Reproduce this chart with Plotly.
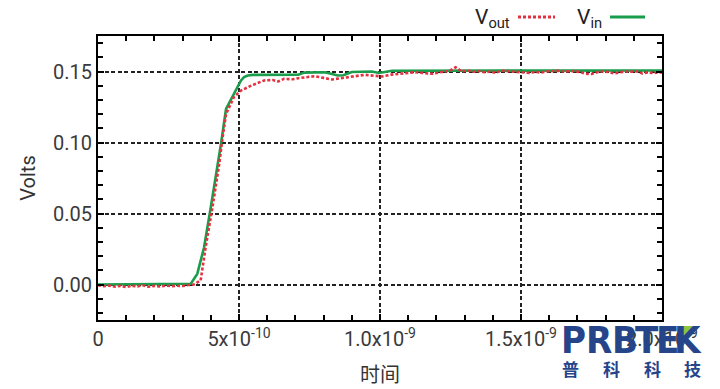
import plotly.graph_objects as go

# ---------------- data (time in units of 1e-10 s, volts) ----------------
vin_t_e10 = [0.0, 1.5, 2.5, 3.0, 3.29, 3.52, 3.76, 4.0, 4.24, 4.36, 4.54, 4.70, 4.83, 4.96, 5.07, 5.18, 5.31, 5.5,
             6.5, 7.1, 7.32, 8.04, 8.3, 8.5, 8.7, 9.0, 9.71, 9.96, 10.43, 13.0, 16.0, 20.0]
vin_v = [0.0, 0.0, 0.0, 0.0, 0.0005, 0.0075, 0.026, 0.0545, 0.0826, 0.099, 0.1237, 0.1300, 0.1343, 0.1395, 0.1437,
         0.1460, 0.1472, 0.1476,
         0.1475, 0.1477, 0.1492, 0.1495, 0.1482, 0.1472, 0.1474, 0.1497, 0.1500, 0.1490, 0.1505, 0.1506, 0.1507, 0.1507]

vout_t_e10 = [0.0, 0.2, 0.4, 0.6, 0.8, 1.0, 1.2, 1.4, 1.6, 1.8, 2.0, 2.2, 2.4, 2.6, 2.8, 3.0, 3.2, 3.4,
              3.64, 3.82, 4.06, 4.30, 4.42, 4.54, 4.82, 5.07, 5.43, 5.89, 6.2, 6.39, 6.6, 6.9, 7.1, 7.4,
              7.68, 8.0, 8.29, 8.6, 8.89, 9.2, 9.46, 9.8, 10.07, 10.4, 10.68, 11.0, 11.25, 11.6, 11.86,
              12.2, 12.46, 12.68, 12.9, 13.1, 13.3, 13.5, 13.7, 13.9, 14.1, 14.3, 14.5, 14.7, 14.9, 15.1,
              15.3, 15.5, 15.7, 15.9, 16.1, 16.3, 16.5, 16.7, 16.9, 17.1, 17.3, 17.5, 17.7, 17.9, 18.1,
              18.3, 18.5, 18.7, 18.9, 19.1, 19.3, 19.5, 19.7, 19.9, 20.0]
vout_v = [-0.0005, -0.0012, -0.0008, -0.0015, -0.0010, -0.0018, -0.0009, -0.0013, -0.0006, -0.0016,
          -0.0010, -0.0014, -0.0008, -0.0012, -0.0009, -0.0011, -0.0004, 0.0000,
          0.0028, 0.0266, 0.0545, 0.085, 0.1038, 0.120, 0.132, 0.1366, 0.140, 0.1437, 0.1440, 0.1430,
          0.1448, 0.1445, 0.1453, 0.1460, 0.1467, 0.1455, 0.1444, 0.1452, 0.1460, 0.1470, 0.1477,
          0.1470, 0.1465, 0.1478, 0.1484, 0.1490, 0.1495, 0.1488, 0.1484, 0.1497, 0.1505, 0.1530,
          0.1500, 0.1507, 0.1498, 0.1503, 0.1495, 0.1500, 0.1490, 0.1506, 0.1502, 0.1500, 0.1497,
          0.1495, 0.1490, 0.1497, 0.1493, 0.1500, 0.1502, 0.1505, 0.1500, 0.1500, 0.1503, 0.1496,
          0.1484, 0.1482, 0.1495, 0.1500, 0.1497, 0.1487, 0.1496, 0.1500, 0.1498, 0.1501, 0.1486,
          0.1494, 0.1488, 0.1495, 0.1492]

x_tickvals = [0, 5e-10, 1.0e-9, 1.5e-9, 2.0e-9]
x_ticktext = ["0", "5x10<sup>-10</sup>", "1.0x10<sup>-9</sup>", "1.5x10<sup>-9</sup>", "2.0x10<sup>-9</sup>"]
y_tickvals = [0.0, 0.05, 0.10, 0.15]
y_ticktext = ["0.00", "0.05", "0.10", "0.15"]

series_names = ["V<sub>out</sub>", "V<sub>in</sub>"]
x_title = "时间"
y_title = "Volts"
logo_letters = ["P", "R", "B", "T", "E", "K"]
logo_cn = ["普", "科", "科", "技"]

RED = "#e3313f"
GREEN = "#1a9d4b"
NAVY = "#26448a"

vin_t = [t * 1e-10 for t in vin_t_e10]
vout_t = [t * 1e-10 for t in vout_t_e10]

fig = go.Figure()
fig.add_trace(go.Scatter(x=vin_t, y=vin_v, mode="lines", name=series_names[1],
                         line=dict(color=GREEN, width=2.6), showlegend=False))
fig.add_trace(go.Scatter(x=vout_t, y=vout_v, mode="lines", name=series_names[0],
                         line=dict(color=RED, width=2.6, dash="3px,2px"), showlegend=False))

# plot area geometry (px) for paper conversions
W, H = 720, 389
L, R, T, B = 98, 58, 36, 69
PW, PH = W - L - R, H - T - B

def px(xp):
    return (xp - L) / PW

def py(yp):
    return (H - B - yp) / PH

tickfont = dict(family="Roboto", size=20, color="#3a3a3a")
axis_common = dict(showline=True, linecolor="black", linewidth=2, mirror="ticks",
                   ticks="inside", ticklen=6, tickwidth=1.5, tickcolor="black",
                   showgrid=True, gridcolor="#222222", gridwidth=1.5, griddash="4px,2.5px",
                   zeroline=False, tickfont=tickfont, automargin=False)

fig.update_xaxes(range=[0, 2.0e-9], tickvals=x_tickvals, ticktext=x_ticktext,
                 minor=dict(dtick=1e-10, ticks="inside", ticklen=5, tickcolor="black", tickwidth=1.5, showgrid=False),
                 title=dict(text=x_title, font=dict(family="Noto Sans CJK SC", size=20, color="#333333"), standoff=18),
                 **axis_common)
fig.update_yaxes(range=[-0.025, 0.175], tickvals=y_tickvals, ticktext=y_ticktext,
                 minor=dict(dtick=0.01, ticks="inside", ticklen=5, tickcolor="black", tickwidth=1.5, showgrid=False),
                 title=dict(text=y_title, font=dict(family="Roboto", size=20, color="#333333"), standoff=12),
                 **axis_common)

annotations = []
shapes = []
# custom legend: text then sample line
annotations.append(dict(xref="paper", yref="paper", x=px(512), y=py(19), xanchor="right", yanchor="middle",
                        text=series_names[0], showarrow=False, font=dict(family="Roboto", size=21, color="#222222")))
annotations.append(dict(xref="paper", yref="paper", x=px(604), y=py(19), xanchor="right", yanchor="middle",
                        text=series_names[1], showarrow=False, font=dict(family="Roboto", size=21, color="#222222")))
shapes.append(dict(type="line", xref="paper", yref="paper", x0=px(518), x1=px(555), y0=py(17), y1=py(17),
                   line=dict(color=RED, width=3, dash="3px,2px")))
shapes.append(dict(type="line", xref="paper", yref="paper", x0=px(610), x1=px(645), y0=py(17), y1=py(17),
                   line=dict(color=GREEN, width=3)))

# watermark logo
letter_x = [573, 599, 625, 647, 667, 688]
for ch, xc in zip(logo_letters, letter_x):
    annotations.append(dict(xref="paper", yref="paper", x=px(xc), y=py(340), xanchor="center", yanchor="middle",
                            text="<b>%s</b>" % ch, showarrow=False,
                            font=dict(family="Liberation Sans Narrow, DejaVu Sans Condensed, Liberation Sans",
                                      size=38, color=NAVY)))
cn_x = [570, 611, 652, 692]
for ch, xc in zip(logo_cn, cn_x):
    annotations.append(dict(xref="paper", yref="paper", x=px(xc), y=py(369), xanchor="center", yanchor="middle",
                            text="<b>%s</b>" % ch, showarrow=False,
                            font=dict(family="Noto Sans CJK SC", size=17, color=NAVY)))
shapes.append(dict(type="path", xref="paper", yref="paper",
                   path="M %f %f L %f %f L %f %f Z" % (px(683), py(326), px(700), py(326), px(683), py(344)),
                   fillcolor="#8cc63f", line=dict(width=0)))

fig.update_layout(width=W, height=H, margin=dict(l=L, r=R, t=T, b=B),
                  paper_bgcolor="white", plot_bgcolor="white",
                  annotations=annotations, shapes=shapes, showlegend=False)

fig.write_html("out.html")
